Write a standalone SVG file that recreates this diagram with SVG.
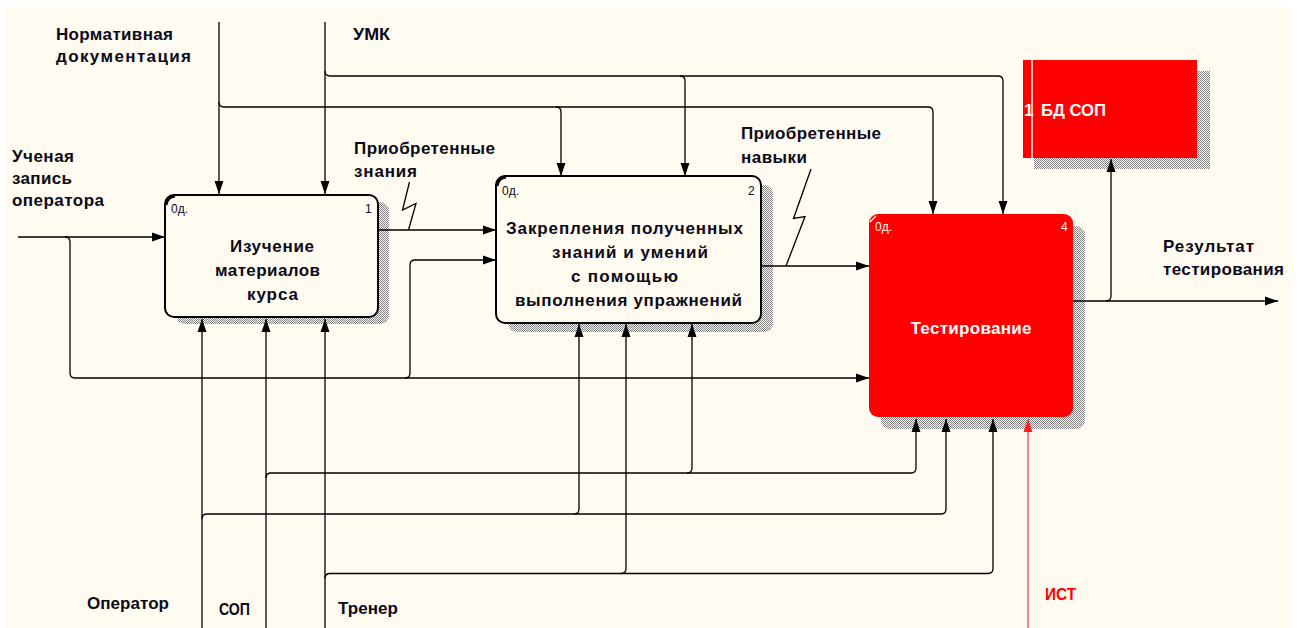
<svg xmlns="http://www.w3.org/2000/svg" width="1299" height="628" viewBox="0 0 1299 628">
<style>
.t{font-family:"Liberation Sans",Arial,sans-serif;fill:#0a0a18}
.lbl{font-weight:bold;font-size:17px}
.bx{font-weight:bold;font-size:17px}
.sm{font-size:12px}
.w{fill:#ffffff}
.red{fill:#ff0000}
.ln{fill:none;stroke:#000;stroke-width:1.3}
.ar{marker-end:url(#ah)}
.rl{fill:none;stroke:#ff5a5a;stroke-width:1.5}
.box{fill:#fffbf0;stroke:#000;stroke-width:2}
.rbox{fill:#ff0000}
.sh{fill:url(#dither)}
</style>
<defs>
<pattern id="dither" width="2" height="2" patternUnits="userSpaceOnUse">
<rect width="2" height="2" fill="#fffbf0"/>
<rect width="1" height="1" fill="#808080"/>
<rect x="1" y="1" width="1" height="1" fill="#808080"/>
</pattern>
<marker id="ah" markerUnits="userSpaceOnUse" markerWidth="13" markerHeight="10" refX="13" refY="5" orient="auto">
<path d="M0,0.5 L13,5 L0,9.5 z" fill="#000"/>
</marker>
<marker id="ahr" markerUnits="userSpaceOnUse" markerWidth="13" markerHeight="10" refX="13" refY="5" orient="auto">
<path d="M0,0.5 L13,5 L0,9.5 z" fill="#ff2020"/>
</marker>
</defs>
<rect width="1299" height="628" fill="#ffffff"/>
<rect x="6" y="7" width="1285" height="621" fill="#fffbf0"/>

<g id="box1">
<rect class="sh" x="176" y="202" width="213" height="122" rx="9"/>
<rect class="box" x="165" y="195" width="213" height="122" rx="9"/>
<path d="M166,205 Q167,197 175,196" fill="none" stroke="#000" stroke-width="3"/>
<text class="t sm" x="171" y="213">0д.</text>
<text class="t sm" x="365" y="213">1</text>
<text class="t bx" x="230" y="252" textLength="84" lengthAdjust="spacing">Изучение</text>
<text class="t bx" x="215" y="276" textLength="105" lengthAdjust="spacing">материалов</text>
<text class="t bx" x="247" y="300" textLength="51" lengthAdjust="spacing">курса</text>
</g>

<g id="box2">
<rect class="sh" x="508" y="185" width="265" height="147" rx="9"/>
<rect class="box" x="496" y="176" width="265" height="147" rx="9"/>
<path d="M497,186 Q498,178 506,177" fill="none" stroke="#000" stroke-width="3"/>
<text class="t sm" x="502" y="195">0д.</text>
<text class="t sm" x="748" y="195">2</text>
<text class="t bx" x="506" y="234" textLength="237" lengthAdjust="spacing">Закрепления полученных</text>
<text class="t bx" x="552" y="258" textLength="156" lengthAdjust="spacing">знаний и умений</text>
<text class="t bx" x="571" y="282" textLength="107" lengthAdjust="spacing">с помощью</text>
<text class="t bx" x="515" y="306" textLength="227" lengthAdjust="spacing">выполнения упражнений</text>
</g>

<g id="box4">
<rect class="sh" x="881" y="226" width="204" height="203" rx="9"/>
<rect class="rbox" x="869" y="214" width="204" height="203" rx="9"/>
<line x1="870" y1="222" x2="876" y2="216" stroke="#fff" stroke-width="1.3"/>
<text class="t sm w" x="875" y="231">0д.</text>
<text class="t sm w" x="1061" y="231">4</text>
<text class="t lbl w" x="971" y="334" text-anchor="middle" textLength="121" lengthAdjust="spacing">Тестирование</text>
</g>

<g id="bd-sop">
<rect class="sh" x="1034" y="71" width="176" height="98"/>
<rect class="rbox" x="1023" y="60" width="174" height="98"/>
<line x1="1032" y1="60" x2="1032" y2="158" stroke="#fff" stroke-width="1.5"/>
<text class="t lbl w" x="1024" y="116" font-size="15">1</text>
<text class="t lbl w" x="1041" y="116" textLength="65" lengthAdjust="spacingAndGlyphs">БД СОП</text>
</g>

<g id="connectors">
<!-- Нормативная документация -->
<path class="ln ar" d="M219,22 V194"/>
<path class="ln" d="M219,102 Q219,107 224,107 H556"/>
<path class="ln ar" d="M556,107 Q561,107 561,112 V176"/>
<path class="ln" d="M556,107 H928"/>
<path class="ln ar" d="M928,107 Q933,107 933,112 V214"/>
<!-- УМК -->
<path class="ln ar" d="M325,22 V194"/>
<path class="ln" d="M325,71 Q325,76 330,76 H680"/>
<path class="ln ar" d="M680,76 Q685,76 685,81 V176"/>
<path class="ln" d="M680,76 H998"/>
<path class="ln ar" d="M998,76 Q1003,76 1003,81 V214"/>
<!-- Ученая запись оператора -->
<path class="ln ar" d="M18,237 H165"/>
<path class="ln" d="M65,237 Q70,237 70,242 V373 Q70,378 75,378 H405"/>
<path class="ln ar" d="M405,378 H869"/>
<path class="ln ar" d="M405,378 Q410,378 410,373 V265 Q410,260 415,260 H496"/>
<!-- Приобретенные знания -->
<path class="ln ar" d="M378,230 H496"/>
<polyline class="ln" points="409.5,182 402.5,210 416,203.5 408.5,230"/>
<!-- Приобретенные навыки -->
<path class="ln ar" d="M761,266 H869"/>
<polyline class="ln" points="811,169 793.5,218.5 805,216.5 786,266"/>
<!-- Результат тестирования -->
<path class="ln ar" d="M1073,301 H1278"/>
<path class="ln ar" d="M1106,301 Q1111,301 1111,296 V159"/>
<!-- Оператор -->
<path class="ln ar" d="M202,628 V319"/>
<path class="ln" d="M202,519 Q202,514 207,514 H574"/>
<path class="ln ar" d="M574,514 Q579,514 579,509 V324"/>
<path class="ln" d="M574,514 H941"/>
<path class="ln ar" d="M941,514 Q946,514 946,509 V419"/>
<!-- СОП -->
<path class="ln ar" d="M266,628 V319"/>
<path class="ln" d="M266,478 Q266,473 271,473 H687"/>
<path class="ln ar" d="M687,473 Q692,473 692,468 V324"/>
<path class="ln" d="M687,473 H911"/>
<path class="ln ar" d="M911,473 Q916,473 916,468 V419"/>
<!-- Тренер -->
<path class="ln ar" d="M325,628 V319"/>
<path class="ln" d="M325,578.5 Q325,573.5 330,573.5 H621"/>
<path class="ln ar" d="M621,573.5 Q626,573.5 626,568.5 V324"/>
<path class="ln" d="M621,573.5 H988"/>
<path class="ln ar" d="M988,573.5 Q993,573.5 993,568.5 V419"/>
<!-- ИСТ -->
<path class="rl" d="M1028,628 V419" marker-end="url(#ahr)"/>
</g>

<g id="labels">
<text class="t lbl" x="56" y="40" textLength="117" lengthAdjust="spacing">Нормативная</text>
<text class="t lbl" x="56" y="62" textLength="135" lengthAdjust="spacing">документация</text>
<text class="t lbl" x="353" y="40" textLength="37" lengthAdjust="spacingAndGlyphs">УМК</text>
<text class="t lbl" x="12" y="162" textLength="62" lengthAdjust="spacing">Ученая</text>
<text class="t lbl" x="12" y="184" textLength="60" lengthAdjust="spacing">запись</text>
<text class="t lbl" x="12" y="206" textLength="92" lengthAdjust="spacing">оператора</text>
<text class="t lbl" x="354" y="154" textLength="141" lengthAdjust="spacing">Приобретенные</text>
<text class="t lbl" x="354" y="177" textLength="63" lengthAdjust="spacing">знания</text>
<text class="t lbl" x="741" y="139" textLength="140" lengthAdjust="spacing">Приобретенные</text>
<text class="t lbl" x="741" y="163" textLength="66" lengthAdjust="spacing">навыки</text>
<text class="t lbl" x="1163" y="252" textLength="91" lengthAdjust="spacing">Результат</text>
<text class="t lbl" x="1163" y="275" textLength="121" lengthAdjust="spacing">тестирования</text>
<text class="t lbl" x="87" y="609" textLength="82" lengthAdjust="spacing">Оператор</text>
<text class="t lbl" x="219" y="615" textLength="31" lengthAdjust="spacingAndGlyphs">СОП</text>
<text class="t lbl" x="338" y="614" textLength="60" lengthAdjust="spacing">Тренер</text>
<text class="t lbl red" x="1045" y="600" textLength="31" lengthAdjust="spacingAndGlyphs">ИСТ</text>
</g>
</svg>
